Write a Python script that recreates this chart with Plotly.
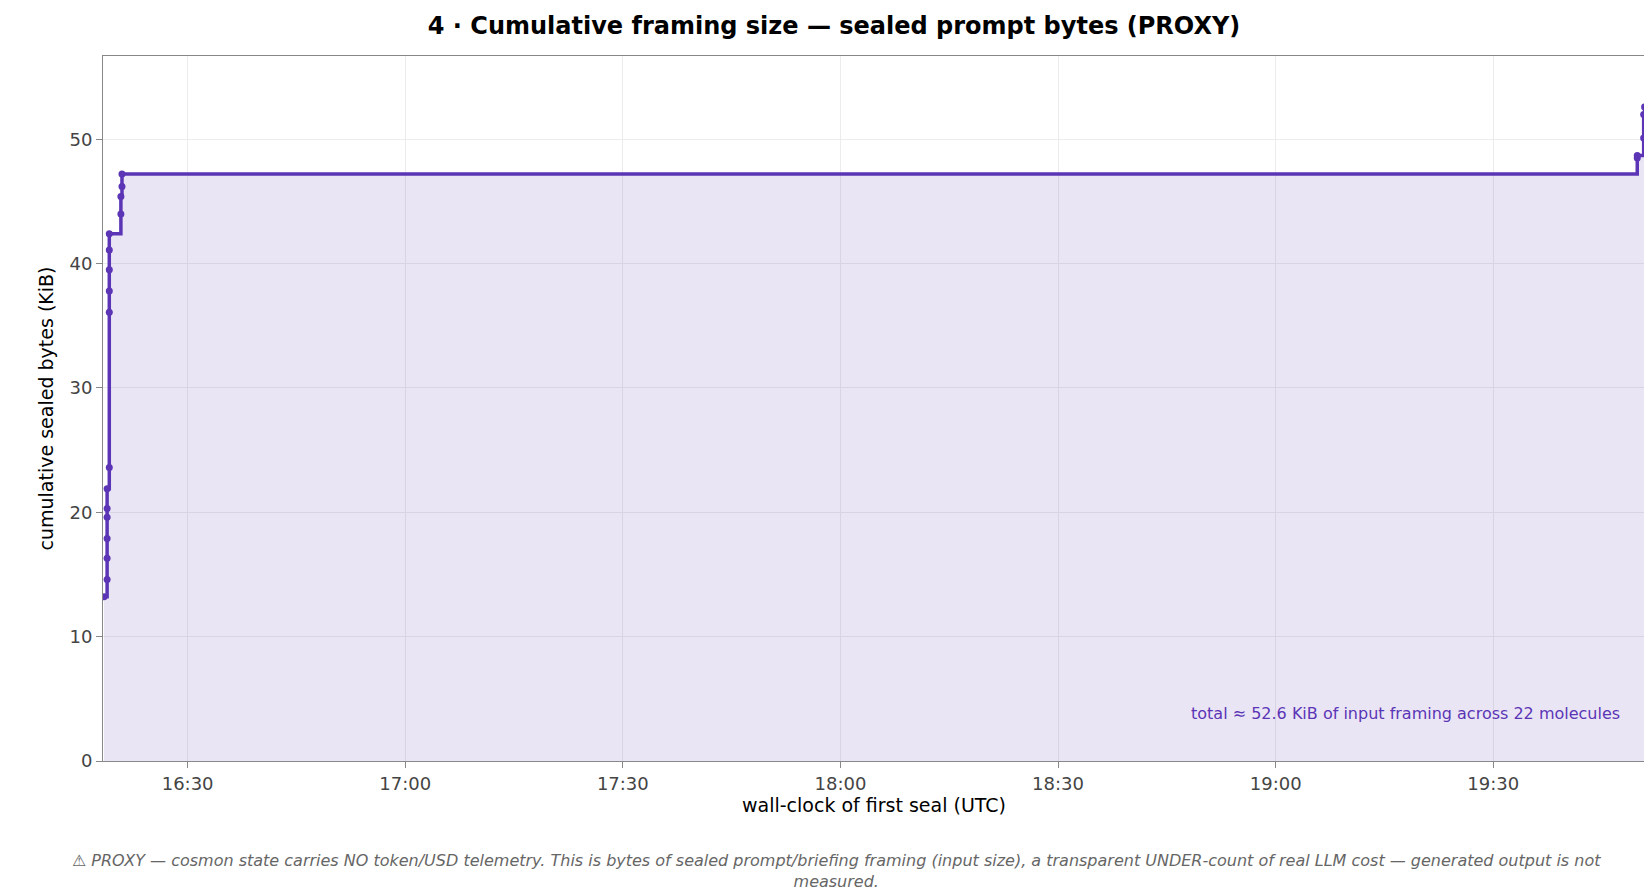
import plotly.graph_objects as go

times = ["2024-01-01 16:18:28","2024-01-01 16:18:54","2024-01-01 16:18:54","2024-01-01 16:18:54",
         "2024-01-01 16:18:54","2024-01-01 16:18:54","2024-01-01 16:18:54","2024-01-01 16:19:12",
         "2024-01-01 16:19:12","2024-01-01 16:19:12","2024-01-01 16:19:12","2024-01-01 16:19:12",
         "2024-01-01 16:19:12","2024-01-01 16:20:48","2024-01-01 16:20:48","2024-01-01 16:20:57",
         "2024-01-01 16:20:57","2024-01-01 19:49:51","2024-01-01 19:49:51","2024-01-01 19:50:44",
         "2024-01-01 19:50:44","2024-01-01 19:50:52"]
cum_kib = [13.2,14.6,16.3,17.9,19.6,20.3,21.9,23.6,36.1,37.8,39.5,41.1,42.4,44.0,45.4,46.2,47.2,
           48.5,48.7,50.1,52.0,52.6]
purple = "#5b35b5"

fig = go.Figure(go.Scatter(x=times, y=cum_kib, mode="lines+markers", line=dict(shape="hv", color=purple, width=3.5),
                           marker=dict(size=7, color=purple), fill="tozeroy", fillcolor="rgba(91,53,181,0.13)"))
fig.update_layout(
    width=1652, height=894, plot_bgcolor="white", paper_bgcolor="white", showlegend=False,
    margin=dict(l=95, r=15, t=48, b=141),
    font=dict(family="DejaVu Sans", size=18, color="#444"),
    title=dict(text="<b>4 · Cumulative framing size — sealed prompt bytes (PROXY)</b>", x=0.5, y=0.99, yanchor="top",
               font=dict(size=24, color="black")),
    xaxis=dict(range=["2024-01-01 16:18:20","2024-01-01 19:50:55"], tickformat="%H:%M", dtick=30*60*1000,
               tick0="2024-01-01 16:30", showgrid=True, gridcolor="#ececec", ticks="outside", ticklen=6,
               tickcolor="#888", showline=True, linecolor="#888", mirror=True,
               title=dict(text="wall-clock of first seal (UTC)", font=dict(size=19, color="black"), standoff=6)),
    yaxis=dict(range=[0, 56.7], dtick=10, showgrid=True, gridcolor="#ececec", ticks="outside", ticklen=6,
               tickcolor="#888", showline=True, linecolor="#888", mirror=True, zeroline=False,
               title=dict(text="cumulative sealed bytes (KiB)", font=dict(size=19, color="black"), standoff=10)),
    annotations=[
        dict(text="total ≈ 52.6 KiB of input framing across 22 molecules", xref="paper", yref="paper",
             x=0.985, y=0.068, xanchor="right", yanchor="middle", showarrow=False, font=dict(size=16, color=purple)),
        dict(text="<i>⚠ PROXY — cosmon state carries NO token/USD telemetry. This is bytes of sealed prompt/briefing framing (input size), a transparent UNDER-count of real LLM cost — generated output is not<br>measured.</i>",
             xref="paper", yref="paper", x=0.476, y=-0.125, xanchor="center", yanchor="top", showarrow=False,
             font=dict(size=16, color="#666")),
    ],
)
fig.write_html("out.html")
